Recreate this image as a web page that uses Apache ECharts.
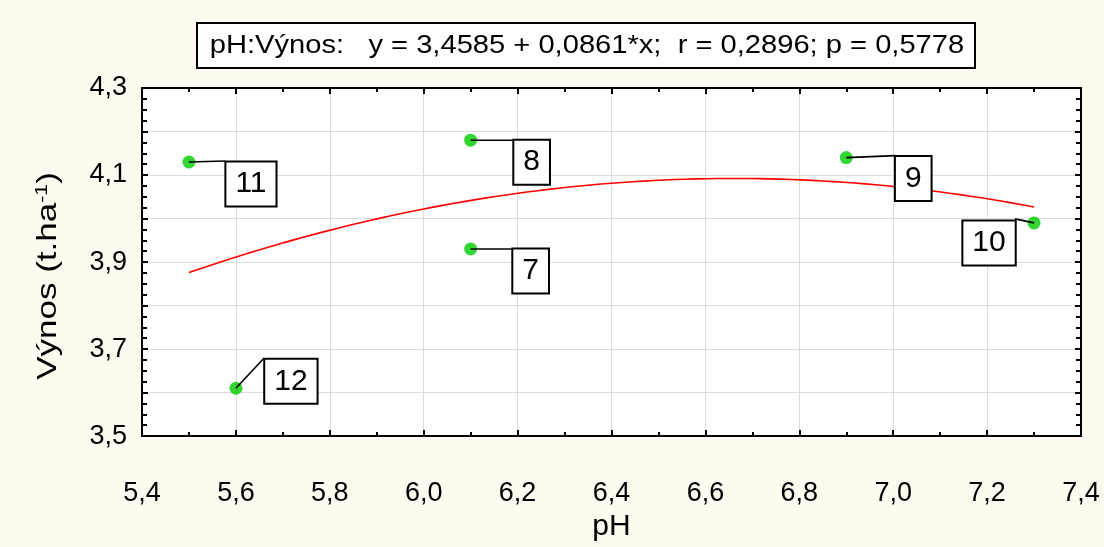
<!DOCTYPE html>
<html>
<head>
<meta charset="utf-8">
<script src="https://cdn.jsdelivr.net/npm/echarts@6/dist/echarts.min.js"></script>
<style>
  html, body { margin: 0; padding: 0; background: #fffaef; }
  #chart { width: 1104px; height: 547px; }
</style>
</head>
<body>
<div id="chart"></div>
<script>
// pH of the soil and the yield (Výnos, t/ha) on each plot
const pH = [5.5, 5.6, 6.1, 6.1, 6.9, 7.3];
const vynos = [4.13, 3.61, 4.18, 3.93, 4.14, 3.99];
const plotIds = ['11', '12', '8', '7', '9', '10'];

const xTicks = { min: 5.4, max: 7.4, step: 0.2 };
const yTicks = { min: 3.5, max: 4.3, step: 0.1 };

const titleText = 'pH:Výnos:   y = 3,4585 + 0,0861*x;  r = 0,2896; p = 0,5778';
const xName = 'pH';
const yNameRich = '{a|Výnos (t.ha}{s|-1}{a|)}';

// label box centre (dx, dy) and leader end (lx, ly), in pixels from the point
const labelPlacement = [
  { dx: 62, dy: 22, lx: 36, ly: -1 },
  { dx: 55, dy: -7, lx: 28, ly: -30 },
  { dx: 61, dy: 22, lx: 43, ly: 0 },
  { dx: 60, dy: 22, lx: 42, ly: 0 },
  { dx: 67, dy: 21, lx: 49, ly: -2 },
  { dx: -45, dy: 20, lx: -19, ly: -4 }
];

// least-squares quadratic fit  y = c0 + c1*x + c2*x^2
function quadFit(xs, ys) {
  const S = [0, 0, 0, 0, 0], T = [0, 0, 0];
  xs.forEach((x, i) => {
    for (let k = 0; k < 5; k++) S[k] += Math.pow(x, k);
    for (let k = 0; k < 3; k++) T[k] += ys[i] * Math.pow(x, k);
  });
  const A = [[S[0], S[1], S[2], T[0]], [S[1], S[2], S[3], T[1]], [S[2], S[3], S[4], T[2]]];
  for (let c = 0; c < 3; c++) {
    for (let r = c + 1; r < 3; r++) {
      const f = A[r][c] / A[c][c];
      for (let k = c; k < 4; k++) A[r][k] -= f * A[c][k];
    }
  }
  const sol = [0, 0, 0];
  for (let r = 2; r >= 0; r--) {
    let s = A[r][3];
    for (let k = r + 1; k < 3; k++) s -= A[r][k] * sol[k];
    sol[r] = s / A[r][r];
  }
  return sol;
}
const coef = quadFit(pH, vynos);
const xLo = Math.min(...pH), xHi = Math.max(...pH);
const fitCurve = [];
for (let i = 0; i <= 80; i++) {
  const x = xLo + (xHi - xLo) * i / 80;
  fitCurve.push([x, coef[0] + coef[1] * x + coef[2] * x * x]);
}

const FONT = 'Liberation Sans, Arial, sans-serif';
const comma = v => v.toFixed(1).replace('.', ',');

const chart = echarts.init(document.getElementById('chart'));

const baseX = {
  type: 'value', min: xTicks.min, max: xTicks.max, interval: xTicks.step,
  axisLine: { show: true, onZero: false, lineStyle: { color: '#000', width: 2 } },
  axisTick: { show: true, inside: true, length: 6, lineStyle: { color: '#000', width: 2 } },
  minorTick: { show: true, splitNumber: 2, length: 4, lineStyle: { color: '#000', width: 2 } }
};
const baseY = {
  type: 'value', min: yTicks.min, max: yTicks.max, interval: yTicks.step,
  axisLine: { show: true, onZero: false, lineStyle: { color: '#000', width: 2 } },
  axisTick: { show: true, inside: true, length: 6, lineStyle: { color: '#000', width: 2 } },
  minorTick: { show: true, splitNumber: 4, length: 5, lineStyle: { color: '#000', width: 2 } }
};

chart.setOption({
  backgroundColor: '#fffaef',
  animation: false,
  graphic: [
    {
      // boxed regression caption
      type: 'group', z: 20,
      children: [
        {
          type: 'rect', shape: { x: 197, y: 23, width: 778, height: 45 },
          style: { fill: '#fff', stroke: '#000', lineWidth: 2 }
        },
        {
          type: 'text', x: 587, y: 46, scaleX: 1.12,
          style: {
            text: titleText, fontFamily: FONT, fontSize: 26, fill: '#000',
            align: 'center', verticalAlign: 'middle'
          }
        }
      ]
    },
    {
      // y axis title, read bottom to top
      type: 'text', x: 48, y: 276, rotation: Math.PI / 2, scaleX: 1.25, z: 20,
      style: {
        text: yNameRich, align: 'center', verticalAlign: 'middle',
        rich: {
          a: { fontFamily: FONT, fontSize: 28, fill: '#000' },
          s: { fontFamily: FONT, fontSize: 17, fill: '#000', verticalAlign: 'top', padding: [0, 0, 12, 0] }
        }
      }
    }
  ],
  grid: {
    left: 142, right: 23, top: 88, bottom: 105,
    show: true, backgroundColor: '#fff', borderColor: '#000', borderWidth: 2
  },
  xAxis: [
    Object.assign({}, baseX, {
      position: 'bottom',
      name: xName, nameLocation: 'middle', nameGap: 73,
      nameTextStyle: { fontFamily: FONT, fontSize: 30, color: '#000' },
      axisLabel: { margin: 44, fontFamily: FONT, fontSize: 27, color: '#000', formatter: comma },
      splitLine: { show: true, lineStyle: { color: '#dcdcdc', width: 1 } }
    }),
    Object.assign({}, baseX, {
      position: 'top', axisLabel: { show: false }, splitLine: { show: false }
    })
  ],
  yAxis: [
    Object.assign({}, baseY, {
      position: 'left',
      axisLabel: {
        margin: 15, fontFamily: FONT, fontSize: 27, color: '#000',
        formatter: v => (Math.round(v * 10) % 2 === 1 ? comma(v) : '')
      },
      splitLine: { show: true, lineStyle: { color: '#dcdcdc', width: 1 } }
    }),
    Object.assign({}, baseY, {
      position: 'right', axisLabel: { show: false }, splitLine: { show: false }
    })
  ],
  series: [
    {
      type: 'line', data: fitCurve, showSymbol: false, symbol: 'none',
      lineStyle: { color: '#ff0000', width: 1.6 }, z: 2, silent: true
    },
    {
      type: 'scatter', data: pH.map((x, i) => [x, vynos[i]]),
      symbol: 'circle', symbolSize: 13,
      itemStyle: { color: '#00cc00' }, z: 3
    },
    {
      type: 'custom', z: 5, clip: false,
      data: pH.map((x, i) => [x, vynos[i], i]),
      renderItem: (params, api) => {
        const p = api.coord([api.value(0), api.value(1)]);
        const i = api.value(2);
        const L = labelPlacement[i];
        return {
          type: 'group',
          children: [
            {
              type: 'line',
              shape: { x1: p[0], y1: p[1], x2: p[0] + L.lx, y2: p[1] + L.ly },
              style: { stroke: '#000', lineWidth: 1.6 }
            },
            {
              type: 'text', x: p[0] + L.dx, y: p[1] + L.dy,
              style: {
                text: plotIds[i], fontFamily: FONT, fontSize: 30, fill: '#000',
                align: 'center', verticalAlign: 'middle', lineHeight: 31,
                backgroundColor: '#fff', borderColor: '#000', borderWidth: 2,
                padding: [6, 9]
              }
            }
          ]
        };
      }
    }
  ]
});
</script>
</body>
</html>
